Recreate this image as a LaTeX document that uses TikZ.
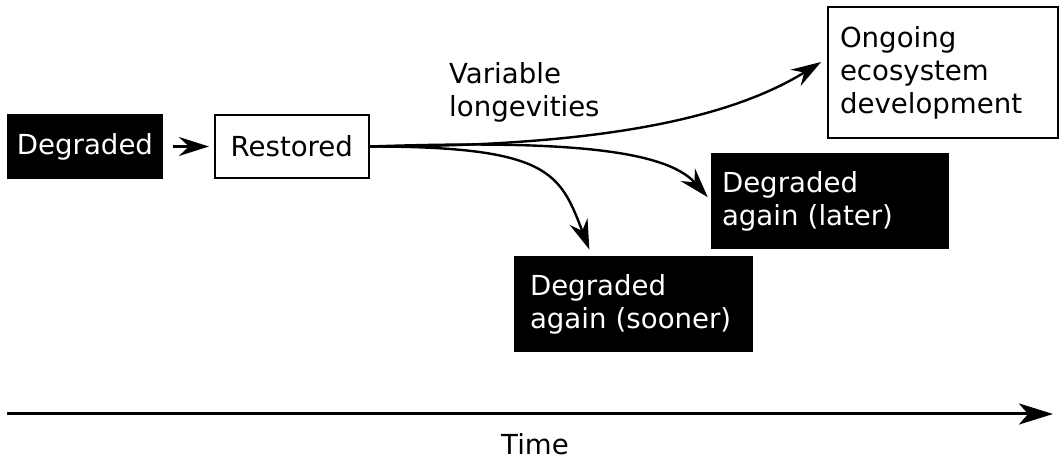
\documentclass[tikz,border=0pt]{standalone}
\usepackage{fontspec}
\setmainfont{DejaVu Sans}
\usetikzlibrary{arrows.meta}
\usetikzlibrary{calc,positioning}

\begin{document}
\begin{tikzpicture}[x=1pt,y=1pt,line width=2.4pt,node distance=51pt]
    \tikzstyle{txt}=[font=\fontsize{27.6}{33}\selectfont, inner sep=0pt]
    \tikzstyle{stage}=[rectangle, draw=black, line width=1.8pt, minimum width=154pt, minimum height=63pt, txt]
    \tikzstyle{dark}=[stage, fill=black, text=white]
    \tikzstyle{flow}=[-{Stealth[length=30pt,width=19pt,inset=10pt]}]

    \useasboundingbox (0,0) rectangle (1064,460);

    \node[dark]    (deg) at (85,313.5) {Degraded};
    \node[stage]   (res) [right=of deg] {Restored};
    \node[stage, minimum width=230pt, minimum height=131pt, text width=206pt, align=left]
                   (ong) at (943,387.5) {Ongoing\\ecosystem\\development};
    \node[dark, minimum width=236pt, minimum height=94pt, text width=216pt, align=left]
                   (later) at (830,259) {Degraded\\again (later)};
    \node[dark, minimum width=237pt, minimum height=94pt, text width=207pt, align=left]
                   (sooner) at (633.5,156) {Degraded\\again (sooner)};
    \node[txt, anchor=west, align=left] (var) at (448,368) {Variable\\longevities};

    \draw[-{Stealth[length=30pt,width=19pt,inset=10pt]}, shorten <=10pt, shorten >=5pt] (deg) -- (res);

    % branches leaving the restored state
    \draw[flow, shorten >=7pt] (res.east) .. controls (560,313.5) and (715,332) .. (ong.173);
    \draw[flow, shorten >=5pt] (res.east) .. controls (560,320) and (665,311) .. (later.west);
    \draw[flow, shorten >=7pt] (res.east) .. controls (550,313.5) and (560,287) .. (sooner.131);

    % time axis
    \coordinate (t0) at (7,46);
    \coordinate (t1) at (1053,46);
    \draw[line width=3pt, -{Stealth[length=34pt,width=21pt,inset=9pt]}] (t0) -- (t1);
    \node[txt, anchor=base] (time) at (535,6) {Time};

  \end{tikzpicture}
\end{document}
